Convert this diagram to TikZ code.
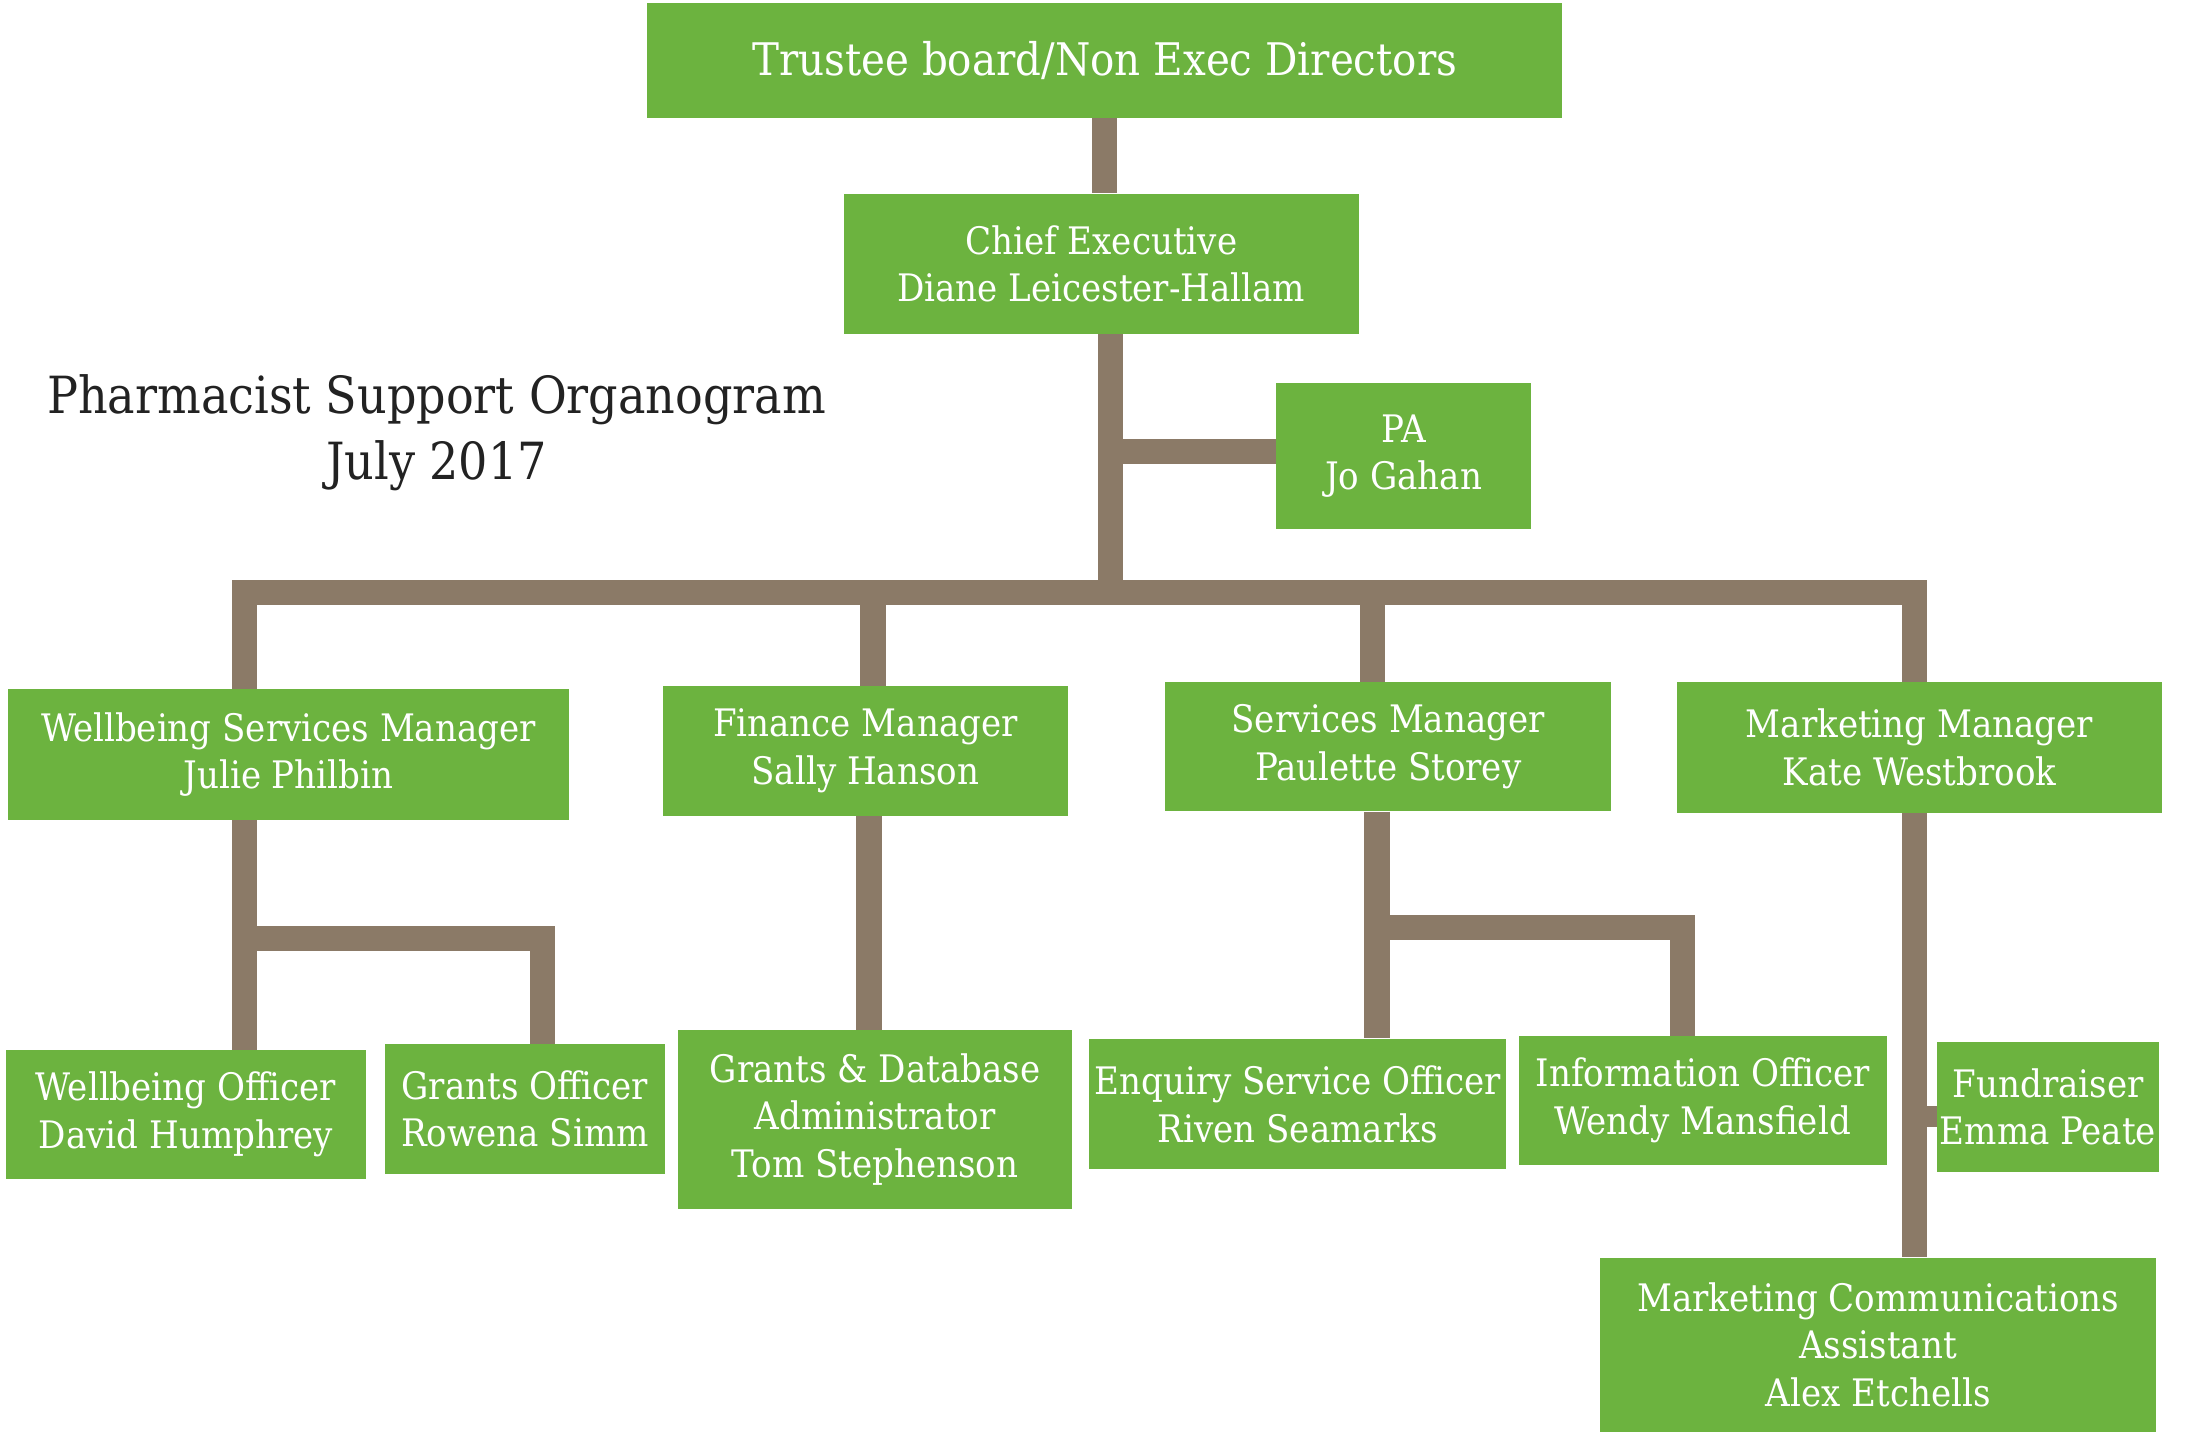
\documentclass[tikz,border=0pt]{standalone}
\usepackage{fontspec}
\setmainfont{DejaVu Serif Condensed}
\usetikzlibrary{backgrounds,calc}
\definecolor{boxgreen}{HTML}{6CB33F}
\definecolor{barbrown}{HTML}{8B7A67}
\definecolor{titlegray}{HTML}{222222}
\tikzset{
  orgbox/.style={rectangle, fill=boxgreen, text=white, align=center, inner sep=0pt,
    font=\fontsize{27}{34}\selectfont},
  bar/.style={draw=barbrown, line width=18pt},
  titletext/.style={text=titlegray, align=center, font=\fontsize{36.5}{47}\selectfont}
}
\begin{document}
\begin{tikzpicture}[x=1pt,y=-1pt]
\useasboundingbox (0,0) rectangle (1568,1025.15);
% boxes
\node[orgbox, minimum width=652pt, minimum height=82pt, font=\fontsize{32}{34}\selectfont] (trustee) at (787,43) {Trustee board/Non Exec Directors};
\node[orgbox, minimum width=367pt, minimum height=100pt] (ceo) at (784.5,188) {Chief Executive\\Diane Leicester-Hallam};
\node[orgbox, minimum width=182pt, minimum height=104pt] (pa) at (1000,325) {PA\\Jo Gahan};
\node[orgbox, minimum width=399pt, minimum height=93pt] (wsm) at (205.5,537.5) {Wellbeing Services Manager\\Julie Philbin};
\node[orgbox, minimum width=289pt, minimum height=92pt] (fm) at (616.5,535) {Finance Manager\\Sally Hanson};
\node[orgbox, minimum width=318pt, minimum height=92pt] (sm) at (989,532) {Services Manager\\Paulette Storey};
\node[orgbox, minimum width=345pt, minimum height=93pt] (mm) at (1367.5,532.5) {Marketing Manager\\Kate Westbrook};
\node[orgbox, minimum width=257pt, minimum height=92pt] (wo) at (132.5,794) {Wellbeing Officer\\David Humphrey};
\node[orgbox, minimum width=200pt, minimum height=92pt] (go) at (374,790) {Grants Officer\\Rowena Simm};
\node[orgbox, minimum width=281pt, minimum height=127pt] (gda) at (623.5,797.5) {Grants \& Database\\Administrator\\Tom Stephenson};
\node[orgbox, minimum width=297pt, minimum height=93pt] (eso) at (924.5,786.5) {Enquiry Service Officer\\Riven Seamarks};
\node[orgbox, minimum width=262pt, minimum height=92pt] (io) at (1213,784) {Information Officer\\Wendy Mansfield};
\node[orgbox, minimum width=158pt, minimum height=93pt] (fr) at (1459,788.5) {Fundraiser\\Emma Peate};
\node[orgbox, minimum width=396pt, minimum height=124pt] (mca) at (1338,958) {Marketing Communications\\Assistant\\Alex Etchells};
% title
\node[titletext] (title) at (311,308) {Pharmacist Support Organogram\\July 2017};
% junction coordinates
\coordinate (topJ) at (787,85);
\coordinate (mainL) at (174,422);
\coordinate (mainR) at (1364,422);
\coordinate (ceoJ) at (791,422);
\coordinate (paJ) at (791,321.5);
\coordinate (wJ) at (174,668.5);
\coordinate (sJ) at (981,661);
\coordinate (frJ) at (1364,795.5);
\begin{scope}[on background layer]
\draw[bar] (topJ |- trustee.south) -- (topJ |- ceo.north);
\draw[bar] (ceo.south -| ceoJ) -- (ceoJ);
\draw[bar] (paJ) -- (paJ -| pa.west);
\draw[bar, line cap=rect] (mainL) -- (mainR);
\draw[bar] (mainL) -- (mainL |- wsm.north);
\draw[bar] (622,422) -- (622,489);
\draw[bar] (978,422) -- (978,486);
\draw[bar] (mainR) -- (mainR |- mm.north);
% wellbeing subtree
\draw[bar] (wsm.south -| wJ) -- (wJ |- wo.north);
\draw[bar, line join=miter] (wJ) -| (386.5,0 |- go.north);
% finance
\draw[bar] (619,581) -- (619,734);
% services subtree
\draw[bar] (sJ |- sm.south) -- (sJ |- eso.north);
\draw[bar, line join=miter] (sJ) -| (1198.5,0 |- io.north);
% marketing
\draw[bar] (mm.south -| mainR) -- (mainR |- mca.north);
\draw[draw=barbrown, line width=15pt] (frJ) -- (frJ -| fr.west);
\end{scope}
\end{tikzpicture}
\end{document}
